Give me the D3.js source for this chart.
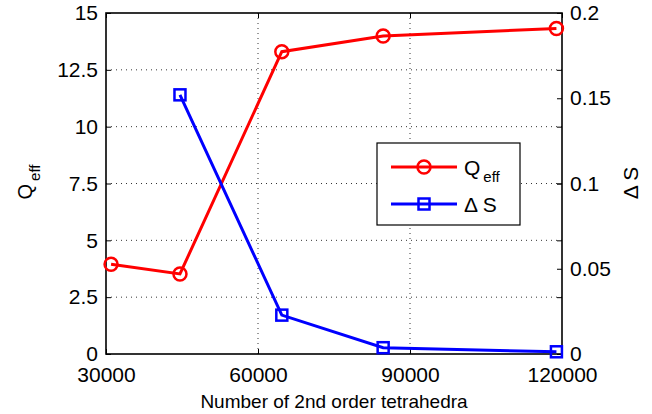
<!DOCTYPE html>
<html><head><meta charset="utf-8">
<script src="https://cdn.jsdelivr.net/npm/d3@7/dist/d3.min.js"></script>
<style>body{margin:0;background:#fff}svg{display:block}text{font-family:"Liberation Sans",Arial,sans-serif;fill:#000}</style>
</head><body><svg id="c" width="652" height="414"></svg>
<script>
const xValues = [31000, 44600, 64700, 84700, 118900];
const qEff = [3.95, 3.52, 13.3, 13.99, 14.32];
const dSx = [44600, 64700, 84700, 118900];
const dS = [0.152, 0.0228, 0.0037, 0.0013];
const xTicks = [30000, 60000, 90000, 120000];
const yLeftTicks = [0, 2.5, 5, 7.5, 10, 12.5, 15];
const yRightTicks = [0, 0.05, 0.1, 0.15, 0.2];

const svg = d3.select("#c");
const L = 106, R = 562, T = 13, B = 354;
const x = d3.scaleLinear().domain([30000, 120000]).range([L, R]);
const yL = d3.scaleLinear().domain([0, 15]).range([B, T]);
const yR = d3.scaleLinear().domain([0, 0.2]).range([B, T]);

// grid
const g = svg.append("g");
g.selectAll("line.gx").data(xTicks.slice(1, -1)).join("line")
  .attr("x1", d => x(d)).attr("x2", d => x(d)).attr("y1", T).attr("y2", B)
  .attr("stroke", "#000").attr("stroke-width", 0.8).attr("stroke-dasharray", "1,4");
g.selectAll("line.gy").data(yLeftTicks.slice(1, -1)).join("line")
  .attr("y1", d => yL(d)).attr("y2", d => yL(d)).attr("x1", L).attr("x2", R)
  .attr("stroke", "#000").attr("stroke-width", 0.8).attr("stroke-dasharray", "1,4");

// axes
const fs = "21px";
const ax = svg.append("g").attr("transform", `translate(0,${B})`)
  .call(d3.axisBottom(x).tickValues(xTicks).tickSize(-5).tickPadding(9).tickFormat(d3.format("d")));
const axT = svg.append("g").attr("transform", `translate(0,${T})`)
  .call(d3.axisTop(x).tickValues(xTicks).tickSize(-5).tickFormat(""));
const ayL = svg.append("g").attr("transform", `translate(${L},0)`)
  .call(d3.axisLeft(yL).tickValues(yLeftTicks).tickSize(-5).tickPadding(8).tickFormat(d => d));
const ayL2 = svg.append("g").attr("transform", `translate(${R},0)`)
  .call(d3.axisRight(yL).tickValues(yLeftTicks).tickSize(-5).tickFormat(""));
const ayR = svg.append("g").attr("transform", `translate(${R},0)`)
  .call(d3.axisRight(yR).tickValues(yRightTicks).tickSize(-5).tickPadding(8).tickFormat(d => d));
[ax, axT, ayL, ayL2, ayR].forEach(a => {
  a.select(".domain").remove();
  a.selectAll("line").attr("stroke", "#000").attr("stroke-width", 1);
  a.selectAll("text").style("font-size", fs).style("font-family", '"Liberation Sans",Arial,sans-serif');
});
ax.selectAll("text").attr("dy", "0.9em");
svg.append("rect").attr("x", L).attr("y", T).attr("width", R - L).attr("height", B - T)
  .attr("fill", "none").attr("stroke", "#000").attr("stroke-width", 1.6);

// lines
const red = "#ff0000", blue = "#0000ff";
const lineQ = d3.line().x((d, i) => x(xValues[i])).y(d => yL(d));
svg.append("path").datum(qEff).attr("d", lineQ).attr("fill", "none").attr("stroke", red).attr("stroke-width", 3);
svg.selectAll("circle.q").data(qEff).join("circle")
  .attr("cx", (d, i) => x(xValues[i])).attr("cy", d => yL(d)).attr("r", 6.5)
  .attr("fill", "none").attr("stroke", red).attr("stroke-width", 2.5);
const lineS = d3.line().x((d, i) => x(dSx[i])).y(d => yR(d));
svg.append("path").datum(dS).attr("d", lineS).attr("fill", "none").attr("stroke", blue).attr("stroke-width", 3);
const sq = 11;
svg.selectAll("rect.s").data(dS).join("rect")
  .attr("x", (d, i) => x(dSx[i]) - sq / 2).attr("y", d => yR(d) - sq / 2)
  .attr("width", sq).attr("height", sq)
  .attr("fill", "none").attr("stroke", blue).attr("stroke-width", 2.5);

// axis labels
svg.append("text").attr("x", (L + R) / 2).attr("y", 408).attr("text-anchor", "middle")
  .style("font-size", "19px").text("Number of 2nd order tetrahedra");
const ql = svg.append("text").attr("transform", "translate(32,182) rotate(-90)").attr("text-anchor", "middle")
  .style("font-size", "20px");
ql.append("tspan").text("Q");
ql.append("tspan").attr("dy", "0.5em").attr("dx", "3").style("font-size", "15px").text("eff");
svg.append("text").attr("transform", "translate(638,183) rotate(-90)").attr("text-anchor", "middle")
  .style("font-size", "21px").text("\u0394 S");

// legend
const lg = svg.append("g");
lg.append("rect").attr("x", 377).attr("y", 143).attr("width", 143).attr("height", 82)
  .attr("fill", "#fff").attr("stroke", "#000").attr("stroke-width", 1.2);
lg.append("line").attr("x1", 391).attr("x2", 457).attr("y1", 167).attr("y2", 167).attr("stroke", red).attr("stroke-width", 3);
lg.append("circle").attr("cx", 424).attr("cy", 167).attr("r", 6.5).attr("fill", "none").attr("stroke", red).attr("stroke-width", 2.5);
lg.append("line").attr("x1", 391).attr("x2", 457).attr("y1", 204).attr("y2", 204).attr("stroke", blue).attr("stroke-width", 3);
lg.append("rect").attr("x", 424 - sq / 2).attr("y", 204 - sq / 2).attr("width", sq).attr("height", sq).attr("fill", "none").attr("stroke", blue).attr("stroke-width", 2.5);
const lt = lg.append("text").attr("x", 464).attr("y", 175).style("font-size", "21px");
lt.append("tspan").text("Q");
lt.append("tspan").attr("dy", "0.45em").attr("dx", "3").style("font-size", "15px").text("eff");
lg.append("text").attr("x", 464).attr("y", 212).style("font-size", "21px").text("\u0394 S");
</script></body></html>
